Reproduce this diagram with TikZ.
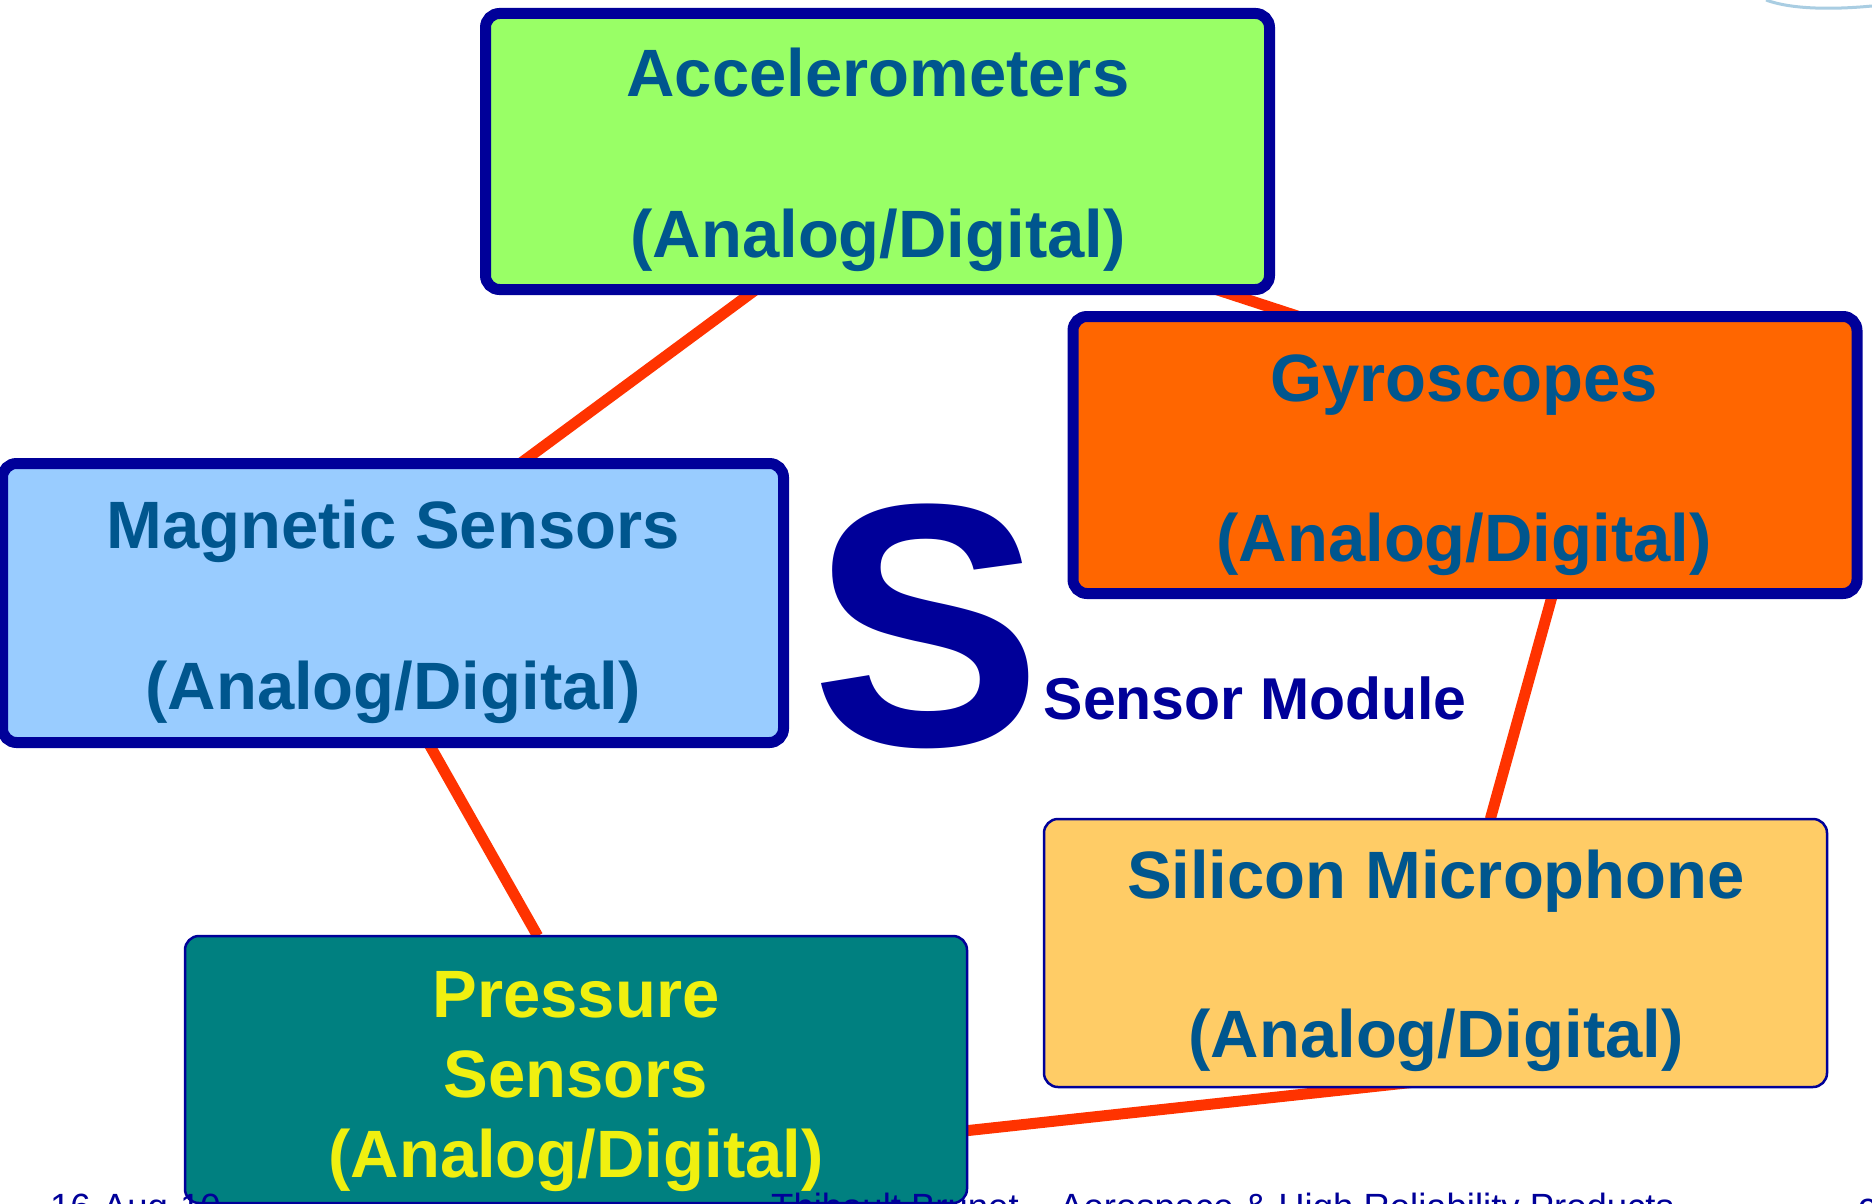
\documentclass[tikz,border=0pt]{standalone}
\usepackage{fontspec}
\setmainfont{Liberation Sans}
\usetikzlibrary{calc,backgrounds}
\definecolor{navyb}{HTML}{000099}
\definecolor{txtb}{HTML}{00568E}
\definecolor{linered}{HTML}{FF3300}
\definecolor{accfill}{HTML}{99FF66}
\definecolor{gyrofill}{HTML}{FF6600}
\definecolor{magfill}{HTML}{99CCFF}
\definecolor{silfill}{HTML}{FFCC66}
\definecolor{prefill}{HTML}{008080}
\definecolor{prtxt}{HTML}{F0F010}
\definecolor{arcblue}{HTML}{A9CDE2}
\pgfdeclarelayer{bottomlayer}
\pgfsetlayers{bottomlayer,background,main}
\begin{document}
\begin{tikzpicture}[x=1pt,y=-1pt,
  thickbox/.style={draw=navyb,line width=11pt,rounded corners=14pt,inner sep=0pt,outer sep=0pt},
  thinbox/.style={draw=navyb,line width=2.5pt,rounded corners=14pt,inner sep=0pt,outer sep=0pt},
  boxtext/.style={anchor=base,inner sep=0pt,text=txtb,font=\fontsize{67}{80}\selectfont\bfseries},
  prtext/.style={boxtext,text=prtxt},
  link/.style={draw=linered,line width=11pt},
  foot/.style={anchor=base west,inner sep=0pt,text=navyb,font=\fontsize{36.5}{44}\selectfont}]
\useasboundingbox (0,0) rectangle (1872,1204);
\begin{pgfonlayer}{bottomlayer}
\fill[white] (0,0) rectangle (1872,1204);
\end{pgfonlayer}
\clip (0,0) rectangle (1872,1204);

% boxes
\node[thickbox,fill=accfill,minimum width=784pt,minimum height=276pt] (acc) at (877.5,151.5) {};
\node[thickbox,fill=gyrofill,minimum width=784pt,minimum height=277pt] (gyro) at (1465,455) {};
\node[thickbox,fill=magfill,minimum width=781pt,minimum height=279pt] (mag) at (393,603) {};
\node[thinbox,fill=silfill,minimum width=783pt,minimum height=268pt] (sil) at (1435.5,953) {};
\node[thinbox,fill=prefill,minimum width=782pt,minimum height=267pt] (pre) at (576,1069.5) {};

% box texts
\node[boxtext] (acc1) at (878,97) {Accelerometers};
\node[boxtext] (acc2) at (878,257) {(Analog/Digital)};
\node[boxtext] (gyro1) at (1464,401) {Gyroscopes};
\node[boxtext] (gyro2) at (1464,561) {(Analog/Digital)};
\node[boxtext] (mag1) at (393,548.5) {Magnetic Sensors};
\node[boxtext] (mag2) at (393,709) {(Analog/Digital)};
\node[boxtext] (sil1) at (1436,898) {Silicon Microphone};
\node[boxtext] (sil2) at (1436,1057) {(Analog/Digital)};
\node[prtext] (pre1) at (576,1017) {Pressure};
\node[prtext] (pre2) at (576,1097) {Sensors};
\node[prtext] (pre3) at (576,1177) {(Analog/Digital)};

% title
\node[anchor=base west,inner sep=0pt,text=navyb,font=\fontsize{346}{346}\selectfont\bfseries] (bigS) at (811,745) {S};
\node[anchor=base west,inner sep=0pt,text=navyb,font=\fontsize{59}{70}\selectfont\bfseries] (smod) at (1043.5,719) {Sensor Module};

% footer
\node[foot] (date) at (50,1219) {16-Aug-10};
\node[foot] (author) at (771,1219) {Thibault Brunet – Aerospace \& High Reliability Products};
\node[foot] (page) at (1858,1224) {9};

% decoration top right
\draw[arcblue,line width=3pt] (1766,0) .. controls (1790,9) and (1830,10) .. (1872,6);

% connectors
\begin{pgfonlayer}{background}
\draw[link] ($(acc.south west)!0.345!(acc.south east)$) -- ($(mag.north west)!0.663!(mag.north east)$);
\draw[link] ($(acc.south west)!0.932!(acc.south east)$) -- ($(gyro.north west)!0.288!(gyro.north east)$);
\draw[link] ($(gyro.south west)!0.612!(gyro.south east)$) -- ($(sil.north west)!0.57!(sil.north east)$);
\draw[link] ($(mag.south west)!0.545!(mag.south east)$) -- ($(pre.north west)!0.451!(pre.north east)$);
\draw[link] ($(sil.south west)!0.71!(sil.south east)+(0,-25)$) -- ($(pre.north east)!0.729!(pre.south east)$);
\end{pgfonlayer}
\end{tikzpicture}
\end{document}
